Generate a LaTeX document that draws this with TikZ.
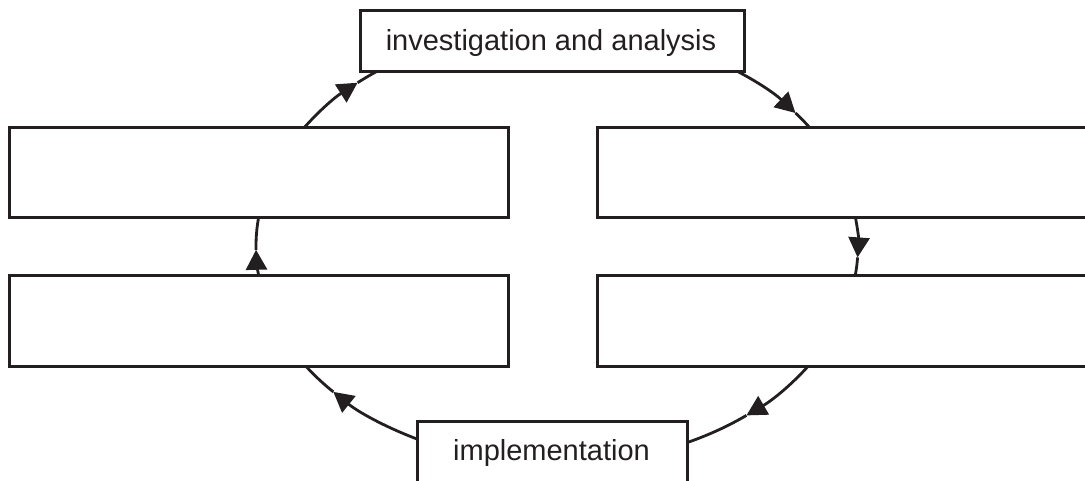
\documentclass[tikz,border=0pt]{standalone}
\usepackage{fontspec}
\setmainfont{Liberation Sans}
\usetikzlibrary{arrows.meta,calc}
\definecolor{ink}{RGB}{35,31,32}
\begin{document}
\begin{tikzpicture}[x=1pt,y=1pt,
  box/.style={draw=ink, line width=3pt, fill=white, rectangle, inner sep=0pt, outer sep=0pt},
  lbl/.style={anchor=base, inner sep=0pt, text=ink, font=\fontsize{29}{34}\selectfont},
  flow/.style={draw=ink, line width=2.8pt},
  tipflow/.style={flow, -{Triangle[length=20pt,width=21pt]}},
  ell/.style={x radius=301, y radius=218}]
\useasboundingbox (0,0) rectangle (1085,-480);
\coordinate (O) at (557,-246);
% cycle connectors (drawn behind the boxes)
\foreach \s/\a/\e in {150/131.5/120, 60/37.6/30, 10/-3/-10, -30/-51/-70, -115/-138/-150, 190/181/170} {
  \coordinate (p0) at ($(O)+(\s:301 and 218)$);
  \coordinate (p1) at ($(O)+(\a:301 and 218)$);
  \draw[tipflow] (p0) arc[start angle=\s, end angle=\a, ell];
  \draw[flow] (p1) arc[start angle=\a, end angle=\e, ell];
}
% boxes
\node[box, minimum width=499, minimum height=90] (L1) at (258.5,-172) {};
\node[box, minimum width=499, minimum height=91] (L2) at (258.5,-320.5) {};
\node[box, minimum width=503, minimum height=90] (R1) at (848.5,-172) {};
\node[box, minimum width=503, minimum height=91] (R2) at (848.5,-320.5) {};
\node[box, minimum width=384, minimum height=61] (top) at (552,-40.5) {};
\node[box, minimum width=270, minimum height=89] (imp) at (552,-465.5) {};
\node[lbl] (toptext) at (551,-50) {investigation and analysis};
\node[lbl] (imptext) at (551.5,-460) {implementation};
\end{tikzpicture}
\end{document}
